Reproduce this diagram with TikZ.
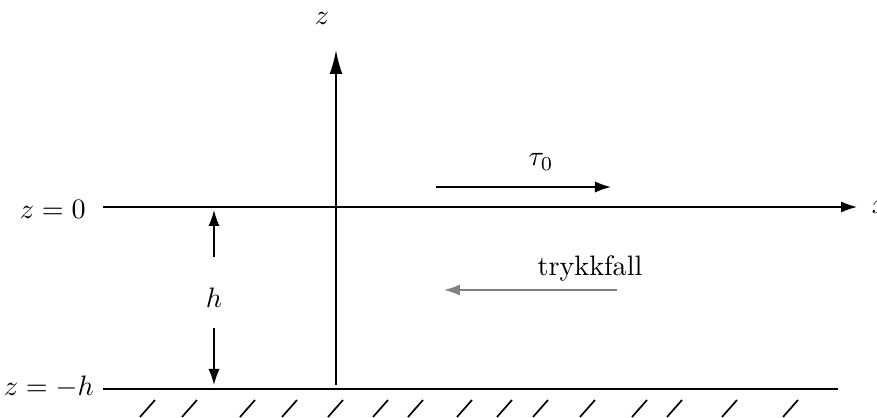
\documentclass[tikz,border=0pt]{standalone}
\usepackage{amsmath}
\usepackage{tikz}
\usetikzlibrary{arrows.meta}

\begin{document}
\begin{tikzpicture}[>={Latex[length=2mm,width=1.4mm]}, line width=0.6pt]
% Frame
\useasboundingbox (-4.2,-2.6375) rectangle (6.7625,2.5875);
% Points
\coordinate (O) at (0,0);
\coordinate (xs) at (-2.9125,0);
\coordinate (xe) at (6.5125,0);
\coordinate (zs) at (0,-2.225);
\coordinate (ze) at (0,1.9625);
\coordinate (gs) at (-2.9125,-2.275);
\coordinate (ge) at (6.275,-2.275);
\coordinate (ht) at (-1.525,-0.625);
\coordinate (htt) at (-1.525,-0.0375);
\coordinate (hb) at (-1.525,-1.5125);
\coordinate (hbb) at (-1.525,-2.225);
% Labels
\node (zl) at (-0.175,2.3625) {$z$};
\node (xl) at (6.8,0) {$x$};
\node (z0) at (-3.54,-0.03) {$z=0$};
\node (zh) at (-3.59,-2.25) {$z=-h$};
\node (hl) at (-1.525,-1.1375) {$h$};
\node (tau) at (2.5625,0.5625) {$\tau_0$};
\node (tr) at (3.175,-0.7625) {trykkfall};
% Axes
\draw[-{Latex[length=3mm,width=1.6mm]}] (zs) -- (ze);
\draw[->] (xs) -- (xe);
% Bottom
\draw (gs) -- (ge);
\foreach \x in {-2.2625,-1.7375,-1.0125,-0.4875,0.0875,0.65,1.0875,1.7,2.2,2.65,3.2375,3.8875,4.325,5.0125,5.775}
  \draw (\x,-2.4125) -- ++(-0.1875,-0.2125);
% Depth
\draw[->] (ht) -- (htt);
\draw[->] (hb) -- (hbb);
% Stress and pressure drop
\draw[->] (1.25,0.25) -- (3.4375,0.25);
\draw[->, gray] (3.5125,-1.0375) -- (1.35,-1.0375);
\end{tikzpicture}
\end{document}
